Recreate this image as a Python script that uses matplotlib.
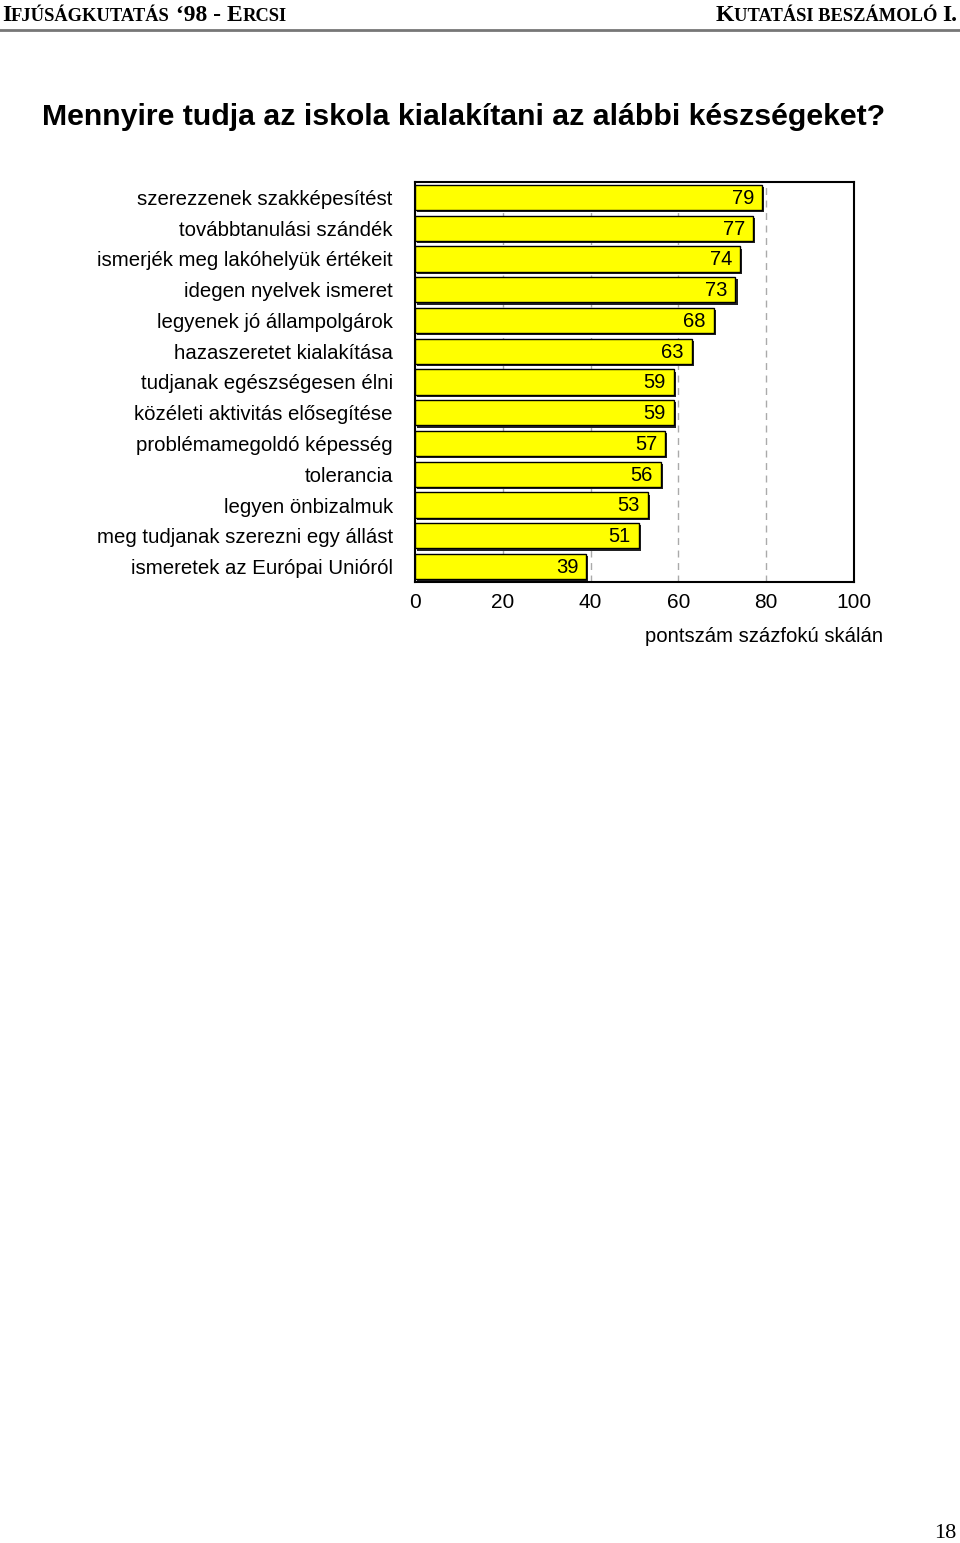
import matplotlib
matplotlib.use("Agg")
import matplotlib.pyplot as plt
from matplotlib.transforms import offset_copy

categories = [
    "szerezzenek szakképesítést",
    "továbbtanulási szándék",
    "ismerjék meg lakóhelyük értékeit",
    "idegen nyelvek ismeret",
    "legyenek jó állampolgárok",
    "hazaszeretet kialakítása",
    "tudjanak egészségesen élni",
    "közéleti aktivitás elősegítése",
    "problémamegoldó képesség",
    "tolerancia",
    "legyen önbizalmuk",
    "meg tudjanak szerezni egy állást",
    "ismeretek az Európai Unióról",
]
values = [79, 77, 74, 73, 68, 63, 59, 59, 57, 56, 53, 51, 39]
xticks = [0, 20, 40, 60, 80, 100]

plt.rcParams['font.family'] = ['Liberation Sans', 'DejaVu Sans']

fig = plt.figure(figsize=(9.6, 15.43), dpi=100)
ax = fig.add_axes([415/960, 1-582/1543, (854-415)/960, 400/1543])

n = len(values)
ypos = list(range(n))
h = 0.82
shadow = offset_copy(ax.transData, fig=fig, x=2.2, y=-2.2, units='dots')
ax.barh(ypos, values, height=h, color='#222222', edgecolor='none', transform=shadow, zorder=2)
ax.barh(ypos, values, height=h, color='#ffff00', edgecolor='black', linewidth=1.0, zorder=3)
for y, v in zip(ypos, values):
    ax.text(v - 1.8, y + 0.03, str(v), ha='right', va='center', fontsize=14.5, zorder=4)

ax.set_xlim(0, 100)
ax.set_ylim(n - 0.5, -0.5)
ax.set_xticks(xticks)
ax.set_xticklabels([str(t) for t in xticks], fontsize=15)
ax.set_yticks(ypos)
ax.set_yticklabels(categories, fontsize=14.7)
ax.tick_params(axis='both', length=0)
ax.tick_params(axis='x', pad=8)
ax.tick_params(axis='y', pad=16)
for t in [20, 40, 60, 80]:
    ax.axvline(t, color='#aaaaaa', linestyle=(0, (5, 4)), linewidth=1.0, zorder=1)
for s in ax.spines.values():
    s.set_linewidth(1.5)
    s.set_color('black')

fig.text(764/960, 1-637/1543, "pontszám százfokú skálán", ha='center', va='center', fontsize=14.6)

fig.text(42/960, 1-117/1543, "Mennyire tudja az iskola kialakítani az alábbi készségeket?",
         ha='left', va='center', fontsize=21.8, fontweight='bold')

# header with small-caps emulation
serif = ['Liberation Serif', 'DejaVu Serif']
big, small = 17, 13.3
renderer = fig.canvas.get_renderer()
H = fig.get_figheight() * fig.dpi

def place(pieces, x0_px, base_px, right=False):
    objs = [fig.text(0, 0, txt, fontsize=sz, fontweight='bold', family=serif,
                     ha='left', va='baseline', transform=None) for txt, sz in pieces]
    widths = [t.get_window_extent(renderer=renderer).width for t in objs]
    x = x0_px - sum(widths) if right else x0_px
    for t, w in zip(objs, widths):
        t.set_position((x, H - base_px))
        x += w

place([("I", big), ("FJÚSÁGKUTATÁS", small), (" \u201898 - ", big), ("E", big), ("RCSI", small)], 2, 21)
place([("K", big), ("UTATÁSI BESZÁMOLÓ ", small), ("I.", big)], 957, 21, right=True)
fig.add_artist(plt.Line2D([0, 1], [1-30/1543, 1-30/1543], color='#777777', linewidth=2,
                          transform=fig.transFigure))

fig.text(956/960, 1-1533/1543, "18", ha='right', va='center', fontsize=16, family=serif)

fig.savefig("out.png", dpi=100)
